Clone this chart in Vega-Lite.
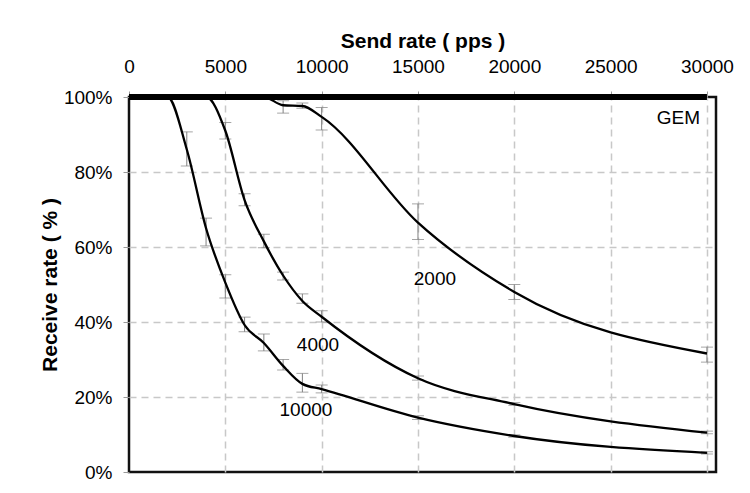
{
  "$schema": "https://vega.github.io/schema/vega-lite/v6.json",
  "autosize": {"type": "none"},
  "padding": {"left": 129, "top": 97, "right": 34, "bottom": 21},
  "width": 587,
  "height": 375,
  "background": "white",
  "config": {
    "view": {"stroke": "#111", "strokeWidth": 2.5},
    "font": "Liberation Sans"
  },
  "datasets": {
    "curves": [
      {"series": "10000", "x": 0, "y": 100}, {"series": "10000", "x": 1000, "y": 100},
      {"series": "10000", "x": 2000, "y": 100}, {"series": "10000", "x": 3000, "y": 86},
      {"series": "10000", "x": 4000, "y": 65}, {"series": "10000", "x": 5000, "y": 50.5},
      {"series": "10000", "x": 6000, "y": 39.2}, {"series": "10000", "x": 7000, "y": 34.4},
      {"series": "10000", "x": 8000, "y": 28.3}, {"series": "10000", "x": 9000, "y": 23.5},
      {"series": "10000", "x": 10000, "y": 22.1}, {"series": "10000", "x": 15000, "y": 14.5},
      {"series": "10000", "x": 20000, "y": 9.6}, {"series": "10000", "x": 30000, "y": 5.1},
      {"series": "4000", "x": 0, "y": 100}, {"series": "4000", "x": 2000, "y": 100},
      {"series": "4000", "x": 3000, "y": 100}, {"series": "4000", "x": 4000, "y": 100},
      {"series": "4000", "x": 5000, "y": 91}, {"series": "4000", "x": 6000, "y": 72.5},
      {"series": "4000", "x": 7000, "y": 61.5}, {"series": "4000", "x": 8000, "y": 52.4},
      {"series": "4000", "x": 9000, "y": 45.6}, {"series": "4000", "x": 10000, "y": 41.4},
      {"series": "4000", "x": 15000, "y": 25}, {"series": "4000", "x": 20000, "y": 18.1},
      {"series": "4000", "x": 30000, "y": 10.5},
      {"series": "2000", "x": 0, "y": 100}, {"series": "2000", "x": 5000, "y": 100},
      {"series": "2000", "x": 7000, "y": 100}, {"series": "2000", "x": 8000, "y": 97.8},
      {"series": "2000", "x": 9000, "y": 97.6}, {"series": "2000", "x": 10000, "y": 94.7},
      {"series": "2000", "x": 15000, "y": 66.5}, {"series": "2000", "x": 20000, "y": 48},
      {"series": "2000", "x": 30000, "y": 31.6}
    ],
    "errs": [
      {"series": "10000", "x": 3000, "y": 81.6, "hi": 90.7},
      {"series": "10000", "x": 4000, "y": 60.3, "hi": 67.7},
      {"series": "10000", "x": 5000, "y": 46.4, "hi": 52.6},
      {"series": "10000", "x": 6000, "y": 37.4, "hi": 41.3},
      {"series": "10000", "x": 7000, "y": 32.3, "hi": 36.8},
      {"series": "10000", "x": 8000, "y": 27.2, "hi": 30},
      {"series": "10000", "x": 9000, "y": 21.3, "hi": 26.3},
      {"series": "10000", "x": 10000, "y": 21.1, "hi": 23.2},
      {"series": "10000", "x": 15000, "y": 14, "hi": 15},
      {"series": "10000", "x": 20000, "y": 9.3, "hi": 9.9},
      {"series": "10000", "x": 30000, "y": 4.8, "hi": 5.4},
      {"series": "4000", "x": 5000, "y": 88.8, "hi": 93.2},
      {"series": "4000", "x": 6000, "y": 71, "hi": 74.2},
      {"series": "4000", "x": 7000, "y": 59.8, "hi": 63.4},
      {"series": "4000", "x": 8000, "y": 51.2, "hi": 53.3},
      {"series": "4000", "x": 9000, "y": 45, "hi": 47.5},
      {"series": "4000", "x": 10000, "y": 40, "hi": 43},
      {"series": "4000", "x": 15000, "y": 24.5, "hi": 25.6},
      {"series": "4000", "x": 20000, "y": 17.8, "hi": 18.5},
      {"series": "4000", "x": 30000, "y": 10.2, "hi": 10.9},
      {"series": "2000", "x": 8000, "y": 95.7, "hi": 99},
      {"series": "2000", "x": 9000, "y": 97, "hi": 98.4},
      {"series": "2000", "x": 10000, "y": 91.2, "hi": 97.2},
      {"series": "2000", "x": 15000, "y": 62, "hi": 71.5},
      {"series": "2000", "x": 20000, "y": 46, "hi": 50},
      {"series": "2000", "x": 30000, "y": 29.3, "hi": 33.3}
    ],
    "gem": [{"x": 0, "y": 100}, {"x": 30000, "y": 100}],
    "labels": [
      {"text": "2000", "x": 15880, "y": 51.5},
      {"text": "4000", "x": 9808, "y": 33.9},
      {"text": "10000", "x": 9185, "y": 16.5},
      {"text": "GEM", "x": 28516, "y": 94.4}
    ]
  },
  "encoding": {
    "x": {
      "field": "x", "type": "quantitative",
      "scale": {"domain": [0, 30470], "nice": false, "zero": false},
      "axis": {
        "orient": "top",
        "values": [0, 5000, 10000, 15000, 20000, 25000, 30000],
        "format": "d",
        "title": "Send rate ( pps )",
        "titleFont": "Liberation Sans", "titleFontSize": 21, "titleFontWeight": "bold", "titleColor": "#000",
        "titlePadding": 6,
        "labelFont": "Liberation Sans", "labelFontSize": 19, "labelColor": "#000",
        "labelBaseline": "alphabetic", "labelPadding": 19, "labelFlush": false,
        "tickColor": "#999", "tickSize": 6,
        "domain": false,
        "grid": true, "gridColor": "#c8c8c8", "gridDash": [7, 5], "gridWidth": 1.5,
        "gridOpacity": {"condition": {"test": "datum.value === 0", "value": 0}, "value": 1}
      }
    },
    "y": {
      "field": "y", "type": "quantitative",
      "scale": {"domain": [0, 100], "nice": false},
      "axis": {
        "values": [0, 20, 40, 60, 80, 100],
        "labelExpr": "datum.value + '%'",
        "title": "Receive rate ( % )",
        "titleFont": "Liberation Sans", "titleFontSize": 21, "titleFontWeight": "bold", "titleColor": "#000",
        "titlePadding": 3,
        "labelFont": "Liberation Sans", "labelFontSize": 19, "labelColor": "#000",
        "labelPadding": 11,
        "tickColor": "#999", "tickSize": 6,
        "domain": false,
        "grid": true, "gridColor": "#c8c8c8", "gridDash": [7, 5], "gridWidth": 1.5,
        "gridOpacity": {"condition": {"test": "datum.value === 0 || datum.value === 100", "value": 0}, "value": 1}
      }
    }
  },
  "layer": [
    {
      "data": {"name": "errs"},
      "mark": {"type": "errorbar", "ticks": {"size": 12, "color": "#808080"}, "rule": {"color": "#808080", "strokeWidth": 1}},
      "encoding": {"y2": {"field": "hi"}, "detail": {"field": "series"}}
    },
    {
      "data": {"name": "curves"},
      "mark": {"type": "line", "interpolate": "monotone", "color": "#000", "strokeWidth": 2.3},
      "encoding": {"detail": {"field": "series"}}
    },
    {
      "data": {"name": "gem"},
      "mark": {"type": "line", "color": "#000", "strokeWidth": 6, "clip": false},
      "encoding": {}
    },
    {
      "data": {"name": "labels"},
      "mark": {"type": "text", "font": "Liberation Sans", "fontSize": 19, "color": "#000", "align": "center", "baseline": "middle"},
      "encoding": {"text": {"field": "text"}}
    }
  ]
}
